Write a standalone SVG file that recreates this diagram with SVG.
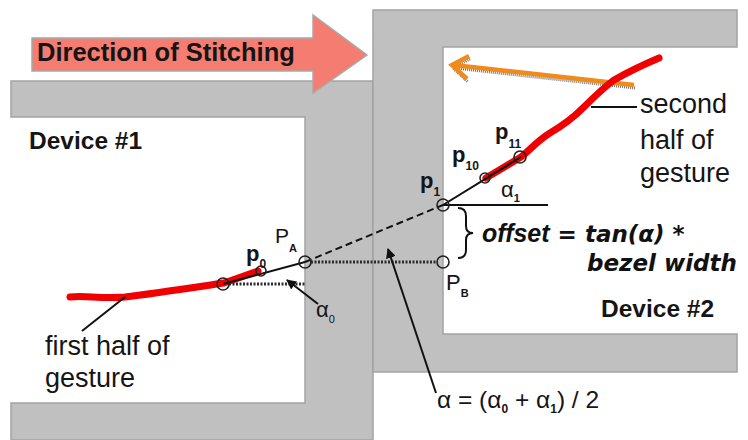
<svg xmlns="http://www.w3.org/2000/svg" width="748" height="440" viewBox="0 0 748 440">
<defs>
<style>
.bezel{fill:#c0c0c0;stroke:#a3a3a3;stroke-width:1.5}
.t{font-family:"Liberation Sans",Arial,sans-serif;fill:#151515}
.b{font-weight:bold}
.lab{font-size:27px}
.dev{font-size:24.5px;font-weight:bold}
.pl{font-size:22px;font-weight:bold}
.sub{font-size:12px;font-weight:bold}
.ln{stroke:#111;stroke-width:2;fill:none}
.dot{stroke:#2a2a2a;stroke-width:3;stroke-dasharray:2 1.5;fill:none}
.pt{fill:none;stroke:#222;stroke-width:1.6}
.gest{fill:none;stroke:#f00000;stroke-width:7;stroke-linecap:round;stroke-linejoin:round}
.off{font-family:"DejaVu Sans",Verdana,sans-serif;font-weight:bold;font-style:italic;font-size:23px;fill:#111}
</style>
<marker id="ah" viewBox="0 0 10 10" refX="9" refY="5" markerWidth="5" markerHeight="5" orient="auto" markerUnits="strokeWidth">
<path d="M0,0 L10,5 L0,10 Z" fill="#111"/>
</marker>
</defs>

<g id="device1">
<path class="bezel" d="M11,81 H373 V440 H11 V403 H305 V117 H11 Z"/>
<text class="t dev" x="29" y="149">Device #1</text>
</g>

<g id="device2">
<path class="bezel" d="M373,10 H737 V47 H443 V334 H737 V372 H373 Z"/>
<text class="t dev" x="601" y="317">Device #2</text>
</g>

<g id="stitch-arrow">
<path d="M32,38 H313 V15 L367,55 L313,93 V71 H32 Z" fill="#f47c70" stroke="#a8a8a8" stroke-width="1.5"/>
<text class="t b" x="37" y="61" font-size="25.5">Direction of Stitching</text>
</g>

<g id="swipe-arrow">
<g transform="translate(1,3)" stroke="#777" stroke-width="3" stroke-dasharray="1 1" fill="none">
<line x1="634" y1="85" x2="453" y2="65"/>
<polyline points="469,56 452,65 467,79"/>
</g>
<line x1="634" y1="85" x2="453" y2="65" stroke="#f08a1a" stroke-width="4.5"/>
<polyline points="469,56 452,65 467,79" fill="none" stroke="#f08a1a" stroke-width="4.5"/>
</g>

<g id="gesture1">
<path class="gest" d="M70,297 C85,295 100,299 125,297 C150,294 190,288 224,283 L258,271"/>
<text class="t lab" x="45" y="355">first half of</text>
<text class="t lab" x="45" y="387">gesture</text>
</g>

<g id="gesture2">
<path class="gest" d="M486,178 L521,157 C530,150 537,141 550,133 C562,126 574,117 584,107 C594,97 603,88 614,80 C628,72 645,64 659,58"/>
<text class="t lab" x="640" y="113">second</text>
<text class="t lab" x="640" y="149">half of</text>
<text class="t lab" x="640" y="182">gesture</text>
</g>

<g id="connectors">
<line class="ln" x1="82" y1="331" x2="125" y2="297" stroke-width="1.6"/>
<line class="ln" x1="591" y1="107" x2="637" y2="107" stroke-width="1.6"/>
<line class="ln" x1="223" y1="284" x2="305" y2="262"/>
<line class="dot" x1="229" y1="284" x2="306" y2="284"/>
<line class="dot" x1="311" y1="262" x2="438" y2="262"/>
<line class="ln" x1="305" y1="262" x2="443" y2="205" stroke-width="2.5" stroke-dasharray="7 4"/>
<line class="ln" x1="443" y1="205" x2="521" y2="157"/>
<line class="ln" x1="443" y1="205" x2="548" y2="205" stroke-width="2.5"/>
<line class="ln" x1="318" y1="304" x2="287" y2="280" stroke-width="2.5" marker-end="url(#ah)"/>
<line class="ln" x1="436" y1="393" x2="388" y2="249" stroke-width="2.5" marker-end="url(#ah)"/>
<path class="ln" stroke-width="2.5" d="M458,208 Q466,208 466,216 V226 Q466,233 473,233 Q466,233 466,240 V250 Q466,258 458,258"/>
</g>

<g id="points">
<circle class="pt" cx="223" cy="284" r="6" stroke-width="2"/>
<circle class="pt" cx="261" cy="271" r="5"/>
<circle class="pt" cx="305" cy="262" r="6"/>
<circle class="pt" cx="443" cy="262" r="6"/>
<circle class="pt" cx="443" cy="205" r="6"/>
<circle class="pt" cx="485" cy="178" r="5"/>
<circle class="pt" cx="520" cy="157" r="6" stroke-width="2"/>
</g>

<g id="labels">
<text class="t pl" x="246" y="261">p<tspan class="sub" dy="7">0</tspan></text>
<text class="t" x="275" y="243" font-size="21">P<tspan font-size="11" dy="9" font-weight="bold">A</tspan></text>
<text class="t" x="316" y="317" font-size="22" fill="#333">α<tspan font-size="11" dy="6">0</tspan></text>
<text class="t pl" x="420" y="188">p<tspan class="sub" dy="8">1</tspan></text>
<text class="t pl" x="452" y="162">p<tspan class="sub" dy="8">10</tspan></text>
<text class="t pl" x="495" y="139">p<tspan class="sub" dy="9">11</tspan></text>
<text class="t" x="501" y="197" font-size="22">α<tspan font-size="11" dy="5" font-weight="bold">1</tspan></text>
<text class="t" x="446" y="290" font-size="22">P<tspan font-size="11" dy="7" font-weight="bold">B</tspan></text>
</g>

<g id="offset-formula">
<text class="off" x="482" y="242"><tspan font-family="Liberation Sans,Arial,sans-serif" font-size="25">offset</tspan> = tan(α)  *</text>
<text class="off" x="587" y="271">bezel width</text>
</g>

<g id="alpha-formula">
<text class="t" x="437" y="408" font-size="24.5">α = (α<tspan font-size="12" font-weight="bold" dy="5">0</tspan><tspan dy="-5"> + α</tspan><tspan font-size="12" font-weight="bold" dy="5">1</tspan><tspan dy="-5">) / 2</tspan></text>
</g>
</svg>
